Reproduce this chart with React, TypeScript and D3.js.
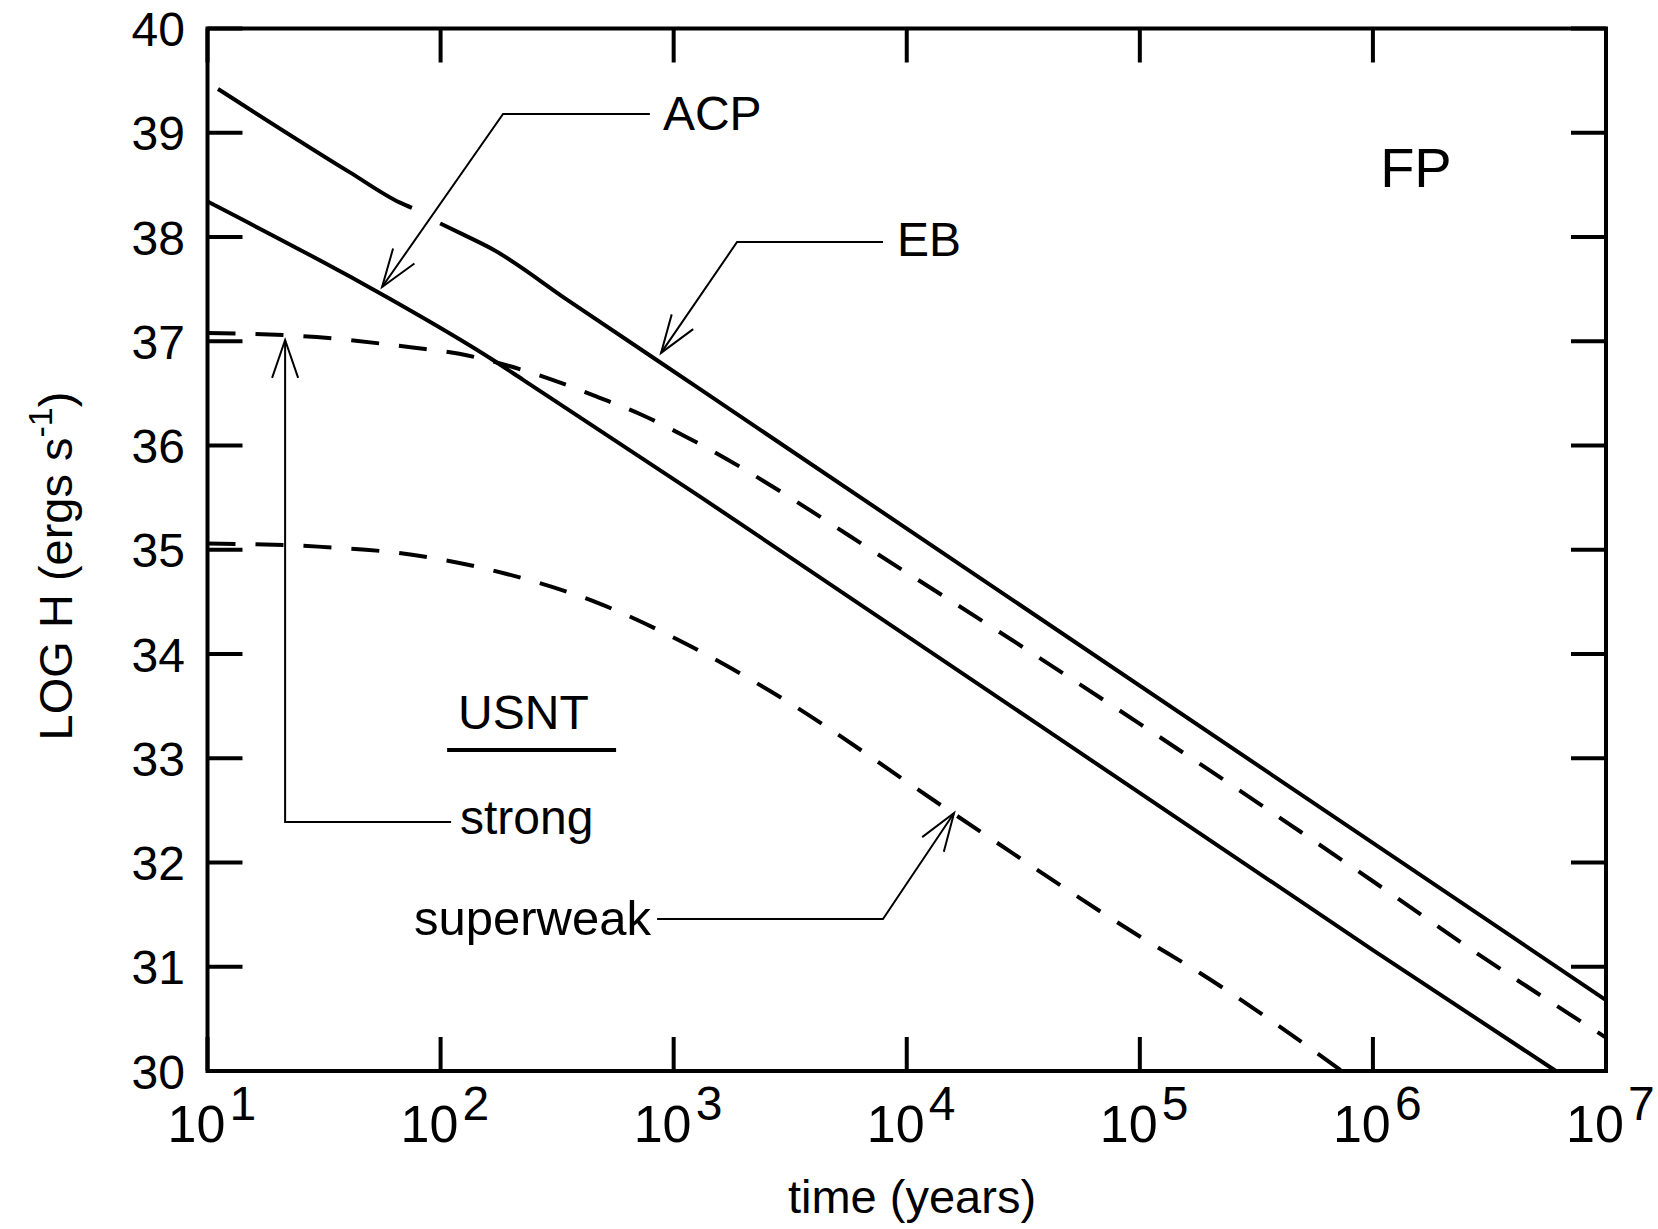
import React from "react";
import * as d3 from "d3";

// ---- data (x = log10 of time in years, y = LOG H) ----
const xDecades = [1, 2, 3, 4, 5, 6, 7];
const yTicks = [30, 31, 32, 33, 34, 35, 36, 37, 38, 39, 40];

// EB curve (upper solid) – NaN marks the break where the ACP leader crosses
const ebCurve: [number, number][] = [
  [1.045, 39.42], [1.611, 38.62], [1.826, 38.33], [1.877, 38.28],
  [NaN, NaN],
  [1.998, 38.13], [2.1, 38.02], [2.225, 37.88], [2.542, 37.4], [3.113, 36.54], [7, 30.68],
];
// ACP curve (lower solid)
const acpCurve: [number, number][] = [
  [1, 38.34], [1.611, 37.62], [1.78, 37.41], [2.225, 36.82], [2.354, 36.63],
  [3.113, 35.51], [6, 31.16], [6.785, 30.0],
];
// USNT strong (upper dashed)
const strongCurve: [number, number][] = [
  [1, 37.08], [1.468, 37.04], [1.88, 36.94], [2.08, 36.88], [2.283, 36.77],
  [2.48, 36.63], [2.68, 36.46], [2.867, 36.29], [3.056, 36.08], [4, 34.78],
  [5, 33.33], [6, 31.82], [6.446, 31.13], [7, 30.32],
];
// USNT superweak (lower dashed)
const superweakCurve: [number, number][] = [
  [1, 35.06], [1.475, 35.03], [1.885, 34.95], [2.28, 34.77], [2.674, 34.49],
  [3.05, 34.1], [3.41, 33.65], [4.2, 32.47], [5, 31.29], [5.258, 30.94], [5.867, 30.0],
];

// annotations: [log10 t, LOG H]
const acpLeader: [number, number][] = [[2.898, 39.18], [2.268, 39.18], [1.749, 37.52]];
const ebLeader: [number, number][] = [[3.898, 37.952], [3.272, 37.952], [2.946, 36.888]];
const strongLeader: [number, number][] = [[2.045, 32.388], [1.333, 32.388], [1.333, 37.012]];
const superweakLeader: [number, number][] = [[2.929, 31.458], [3.898, 31.458], [4.203, 32.475]];

const labels = [
  { text: "ACP", at: [2.954, 39.026], size: 48 },
  { text: "EB", at: [3.958, 37.818], size: 48 },
  { text: "FP", at: [6.031, 38.48], size: 56 },
  { text: "USNT", at: [2.075, 33.281], size: 48 },
  { text: "strong", at: [2.083, 32.273], size: 48 },
  { text: "superweak", at: [1.886, 31.304], size: 49 },
];
const usntUnderline: [number, number][] = [[2.028, 33.079], [2.753, 33.079]];

const W = 1658;
const H = 1229;
const M = { left: 207.5, right: 1606, top: 28.5, bottom: 1071 };
const FONT = "'Liberation Sans', Arial, Helvetica, sans-serif";

export default function App() {
  const x = d3.scaleLog().domain([10, 1e7]).range([M.left, M.right]);
  const y = d3.scaleLinear().domain([30, 40]).range([M.bottom, M.top]);
  const px = (lt: number) => x(Math.pow(10, lt));

  const line = d3
    .line<[number, number]>()
    .defined((d) => !isNaN(d[0]))
    .x((d) => px(d[0]))
    .y((d) => y(d[1]))
    .curve(d3.curveMonotoneX);

  const leaderLine = d3
    .line<[number, number]>()
    .x((d) => px(d[0]))
    .y((d) => y(d[1]));

  const arrowHead = (pts: [number, number][]) => {
    const tip = pts[pts.length - 1];
    const prev = pts[pts.length - 2];
    const tx = px(tip[0]), ty = y(tip[1]);
    const fx = px(prev[0]), fy = y(prev[1]);
    const ang = Math.atan2(fy - ty, fx - tx);
    const a = (19 * Math.PI) / 180;
    const L = 40;
    const p1 = [tx + L * Math.cos(ang + a), ty + L * Math.sin(ang + a)];
    const p2 = [tx + L * Math.cos(ang - a), ty + L * Math.sin(ang - a)];
    return `M${p1[0]},${p1[1]}L${tx},${ty}L${p2[0]},${p2[1]}`;
  };

  const leaders = [acpLeader, ebLeader, strongLeader, superweakLeader];

  return (
    <svg
      width={W}
      height={H}
      style={{ position: "absolute", left: 0, top: 0, background: "#fff" }}
      fontFamily={FONT}
    >
      <rect x={0} y={0} width={W} height={H} fill="#fff" />
      {/* ticks */}
      {yTicks.map((t) => (
        <g key={"yt" + t} stroke="#000" strokeWidth={4}>
          <line x1={M.left} x2={M.left + 35} y1={y(t)} y2={y(t)} />
          <line x1={M.right} x2={M.right - 35} y1={y(t)} y2={y(t)} />
        </g>
      ))}
      {xDecades.map((d) => (
        <g key={"xt" + d} stroke="#000" strokeWidth={4}>
          <line x1={px(d)} x2={px(d)} y1={M.bottom} y2={M.bottom - 34} />
          <line x1={px(d)} x2={px(d)} y1={M.top} y2={M.top + 34} />
        </g>
      ))}
      {/* frame */}
      <rect
        x={M.left}
        y={M.top}
        width={M.right - M.left}
        height={M.bottom - M.top}
        fill="none"
        stroke="#000"
        strokeWidth={4}
      />
      {/* y tick labels */}
      {yTicks.map((t) => (
        <text key={"yl" + t} x={185} y={y(t) + 17.5} fontSize={48} textAnchor="end" fill="#000">
          {t}
        </text>
      ))}
      {/* x tick labels */}
      {xDecades.map((d) => (
        <g key={"xl" + d}>
          <text x={px(d) - 40} y={1142} fontSize={52} fill="#000">
            10
          </text>
          <text x={px(d) + 22} y={1120} fontSize={48} fill="#000">
            {d}
          </text>
        </g>
      ))}
      {/* axis titles */}
      <text x={912} y={1213} fontSize={47} textAnchor="middle" fill="#000">
        time (years)
      </text>
      <text
        transform="translate(72,566) rotate(-90)"
        fontSize={47}
        textAnchor="middle"
        fill="#000"
      >
        LOG H (ergs s
        <tspan fontSize={34} dy={-20}>-1</tspan>
        <tspan dy={20}>)</tspan>
      </text>
      {/* curves */}
      <g fill="none" stroke="#000" strokeWidth={4}>
        <path d={line(ebCurve) || ""} />
        <path d={line(acpCurve) || ""} />
        <path d={line(strongCurve) || ""} strokeDasharray="28 20" />
        <path d={line(superweakCurve) || ""} strokeDasharray="28 20" />
      </g>
      {/* leaders */}
      <g fill="none" stroke="#000" strokeWidth={2}>
        {leaders.map((l, i) => (
          <g key={"ld" + i}>
            <path d={leaderLine(l) || ""} />
            <path d={arrowHead(l)} />
          </g>
        ))}
        <line
          x1={px(usntUnderline[0][0])}
          x2={px(usntUnderline[1][0])}
          y1={y(usntUnderline[0][1])}
          y2={y(usntUnderline[1][1])}
          strokeWidth={4}
        />
      </g>
      {labels.map((l) => (
        <text key={l.text} x={px(l.at[0])} y={y(l.at[1])} fontSize={l.size} fill="#000">
          {l.text}
        </text>
      ))}
    </svg>
  );
}
